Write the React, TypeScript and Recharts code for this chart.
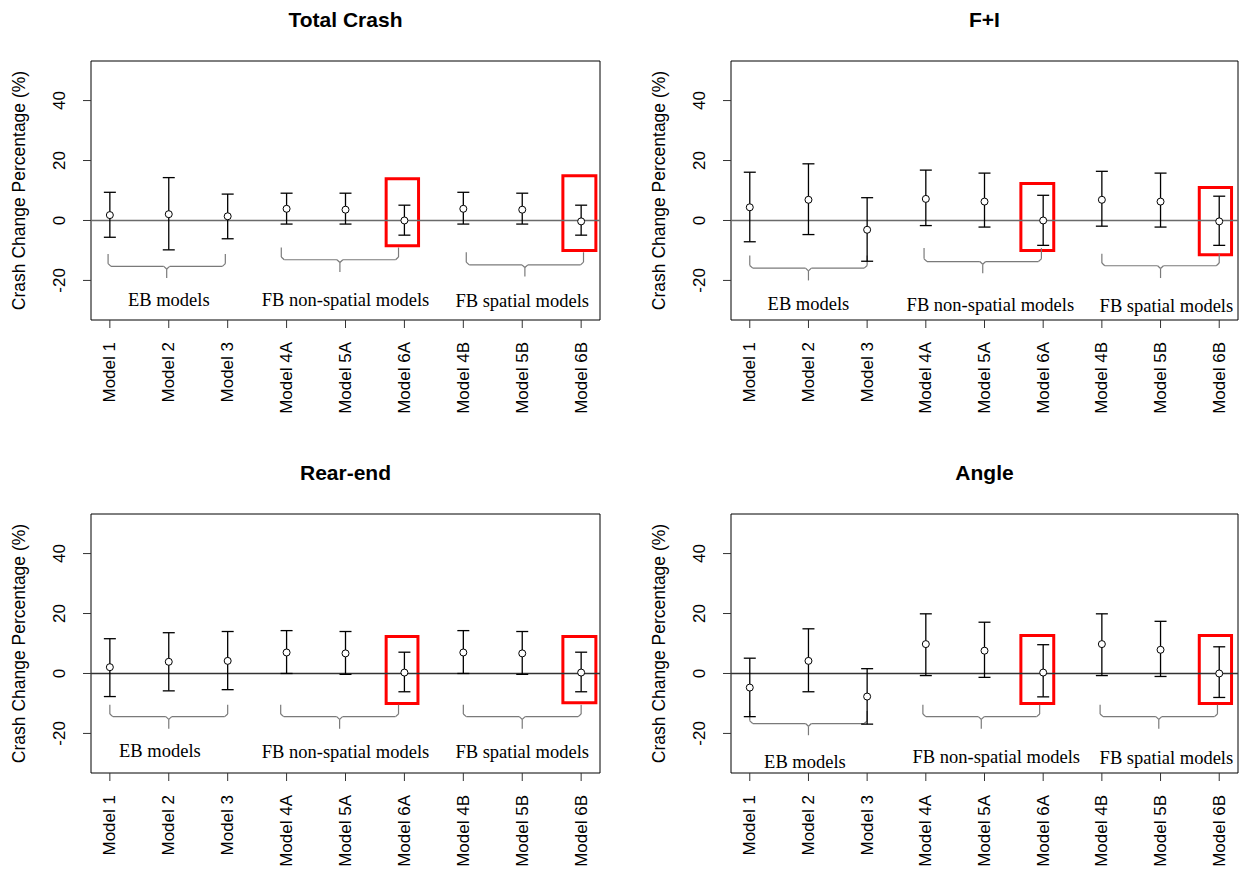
import React from 'react';
import {
  ComposedChart,
  Scatter,
  ErrorBar,
  XAxis,
  YAxis,
  ReferenceLine,
  ReferenceArea,
  ReferenceDot,
} from 'recharts';

// Model categories along the x axis (positions 1..9)
const models = ['Model 1', 'Model 2', 'Model 3', 'Model 4A', 'Model 5A', 'Model 6A', 'Model 4B', 'Model 5B', 'Model 6B'];
const modelPositions = [1, 2, 3, 4, 5, 6, 7, 8, 9];
const yTicks = [-20, 0, 20, 40];
const groupNames = ['EB models', 'FB non-spatial models', 'FB spatial models'];

// Total crash: estimate with 95% interval
const totalEst = [1.8, 2.1, 1.4, 3.9, 3.6, 0.0, 3.9, 3.6, -0.3];
const totalLow = [-5.6, -9.8, -6.1, -1.2, -1.2, -4.9, -1.2, -1.2, -4.9];
const totalHigh = [9.4, 14.3, 8.8, 9.1, 9.1, 5.1, 9.4, 9.1, 5.1];

// Fatal + injury
const fiEst = [4.4, 6.9, -3.1, 7.2, 6.3, 0.0, 6.9, 6.3, -0.3];
const fiLow = [-7.1, -4.7, -13.6, -1.7, -2.2, -8.3, -1.9, -2.2, -8.3];
const fiHigh = [16.1, 18.9, 7.6, 16.8, 15.8, 8.4, 16.4, 15.8, 8.1];

// Rear-end
const rearEst = [2.1, 3.9, 4.2, 7.0, 6.7, 0.3, 7.0, 6.7, 0.3];
const rearLow = [-7.7, -5.8, -5.4, 0.0, -0.3, -6.1, 0.0, -0.3, -6.1];
const rearHigh = [11.6, 13.6, 14.0, 14.3, 14.0, 7.1, 14.3, 14.0, 7.1];

// Angle
const angleEst = [-4.7, 4.2, -7.7, 9.8, 7.6, 0.3, 9.8, 7.9, 0.0];
const angleLow = [-14.4, -6.1, -16.9, -0.7, -1.3, -7.8, -0.7, -1.0, -8.0];
const angleHigh = [5.1, 14.9, 1.6, 19.9, 17.1, 9.6, 19.9, 17.4, 8.9];

// Group braces: [xStart, xEnd, yEnds, yBar, yTip] in data units
const totalBraces = [
  [0.97, 2.96, -11.2, -15.3, -19.2],
  [3.91, 5.9, -9.0, -13.1, -17.2],
  [7.05, 9.04, -10.6, -14.8, -18.7],
];
const fiBraces = [
  [1.0, 3.0, -11.7, -15.9, -20.0],
  [3.97, 5.97, -9.2, -13.7, -17.6],
  [7.0, 9.0, -11.1, -15.1, -19.2],
];
const rearBraces = [
  [1.0, 3.0, -10.4, -14.4, -18.4],
  [3.9, 5.9, -10.4, -14.4, -18.4],
  [7.0, 9.0, -10.4, -14.4, -18.4],
];
const angleBraces = [
  [1.0, 3.0, -12.5, -16.7, -20.6],
  [3.95, 5.94, -10.4, -14.4, -18.4],
  [6.97, 8.97, -10.4, -14.4, -18.4],
];

// Group caption anchors: [x, y] in data units
const totalCaptions = [[2.0, -26.4], [5.0, -26.5], [8.0, -26.6]];
const fiCaptions = [[2.0, -27.8], [5.1, -28.1], [8.1, -28.3]];
const rearCaptions = [[1.85, -25.6], [5.0, -25.9], [8.0, -25.9]];
const angleCaptions = [[1.94, -29.4], [5.2, -27.6], [8.1, -28.1]];

// Highlight frames around Model 6A / 6B: [x1, x2, y1, y2]
const totalFrames = [[5.69, 6.24, -8.4, 13.9], [8.69, 9.25, -10.0, 14.9]];
const fiFrames = [[5.62, 6.18, -10.0, 12.3], [8.66, 9.21, -11.4, 11.0]];
const rearFrames = [[5.69, 6.23, -10.0, 12.3], [8.69, 9.25, -9.8, 12.3]];
const angleFrames = [[5.62, 6.18, -10.0, 12.7], [8.66, 9.21, -10.0, 12.7]];

const X_DOMAIN: [number, number] = [0.68, 9.32];
const Y_DOMAIN: [number, number] = [-33.2, 53.2];

const SANS = '"Liberation Sans", Arial, Helvetica, sans-serif';
const SERIF = '"Liberation Serif", "Times New Roman", serif';

const PLOT_LEFT = 91;
const PLOT_TOP = 61;
const PLOT_H = 259;
const CHART_H = 421;

// brace corner rounding, in data units
const CURL_X = 0.05;
const CURL_Y = 0.9;

const XTick = (props: any) => {
  const { x, y, payload } = props;
  const bx = x + 5.5;
  return (
    <text x={bx} y={y} transform={`rotate(-90 ${bx} ${y})`} textAnchor="end" fontFamily={SANS} fontSize={17} fill="#000">
      {models[payload.value - 1]}
    </text>
  );
};

const YTick = (props: any) => {
  const { x, y, payload } = props;
  return (
    <text x={x} y={y} transform={`rotate(-90 ${x} ${y})`} textAnchor="middle" fontFamily={SANS} fontSize={17} fill="#000">
      {payload.value}
    </text>
  );
};

const OpenCircle = (props: any) => {
  const { cx, cy } = props;
  return <circle cx={cx} cy={cy} r={3.5} fill="#fff" stroke="#000" strokeWidth={1} />;
};

// Builds the polyline pieces of one curly brace
function braceSegments(b: number[]) {
  const [x1, x2, yEnd, yBar, yTip] = b;
  const xm = (x1 + x2) / 2;
  const pts: [number, number][][] = [
    [[x1, yEnd], [x1, yBar + CURL_Y]],
    [[x1, yBar + CURL_Y], [x1 + CURL_X, yBar]],
    [[x1 + CURL_X, yBar], [xm - CURL_X, yBar]],
    [[xm - CURL_X, yBar], [xm, yBar - CURL_Y]],
    [[xm + CURL_X, yBar], [xm, yBar - CURL_Y]],
    [[xm, yBar - CURL_Y], [xm, yTip]],
    [[xm + CURL_X, yBar], [x2 - CURL_X, yBar]],
    [[x2 - CURL_X, yBar], [x2, yBar + CURL_Y]],
    [[x2, yBar + CURL_Y], [x2, yEnd]],
  ];
  return pts;
}

type PanelProps = {
  title: string;
  est: number[];
  low: number[];
  high: number[];
  braces: number[][];
  captions: number[][];
  frames: number[][];
  left: number;
  top: number;
  plotW: number;
  zeroColor: string;
};

function Panel({ title, est, low, high, braces, captions, frames, left, top, plotW, zeroColor }: PanelProps) {
  const data = est.map((v, i) => ({ x: modelPositions[i], y: v, err: [v - low[i], high[i] - v] }));
  const width = PLOT_LEFT + plotW + 4;
  const braceColor = '#7a7a7a';
  return (
    <div style={{ position: 'absolute', left, top, width, height: CHART_H }}>
      <ComposedChart width={width} height={CHART_H} margin={{ top: PLOT_TOP, right: 4, bottom: 1, left: PLOT_LEFT - 40 }}>
        <XAxis
          type="number"
          dataKey="x"
          domain={X_DOMAIN}
          ticks={modelPositions}
          interval={0}
          allowDataOverflow
          height={100}
          axisLine={false}
          tickSize={8}
          tickMargin={14}
          tickLine={{ stroke: '#333' }}
          tick={<XTick />}
        />
        <YAxis
          type="number"
          dataKey="y"
          domain={Y_DOMAIN}
          ticks={yTicks}
          interval={0}
          allowDataOverflow
          width={40}
          axisLine={false}
          tickSize={8}
          tickMargin={18}
          tickLine={{ stroke: '#333' }}
          tick={<YTick />}
        />
        <ReferenceArea x1={X_DOMAIN[0]} x2={X_DOMAIN[1]} y1={Y_DOMAIN[0]} y2={Y_DOMAIN[1]} fill="none" stroke="#000" strokeWidth={1} fillOpacity={0} />
        <ReferenceLine y={0} stroke={zeroColor} strokeWidth={1.3} />
        {braces.map((b, i) =>
          braceSegments(b).map((s, j) => (
            <ReferenceLine
              key={`b${i}-${j}`}
              segment={[{ x: s[0][0], y: s[0][1] }, { x: s[1][0], y: s[1][1] }]}
              stroke={braceColor}
              strokeWidth={1.2}
            />
          ))
        )}
        {frames.map((f, i) => (
          <ReferenceArea key={`f${i}`} x1={f[0]} x2={f[1]} y1={f[2]} y2={f[3]} fill="none" fillOpacity={0} stroke="#ff0000" strokeWidth={3} />
        ))}
        {captions.map((c, i) => (
          <ReferenceDot
            key={`c${i}`}
            x={c[0]}
            y={c[1]}
            r={0}
            fill="none"
            stroke="none"
            label={{ value: groupNames[i], position: 'center', fill: '#000', fontSize: 18.5, fontFamily: SERIF }}
          />
        ))}
        <Scatter data={data} dataKey="y" isAnimationActive={false} shape={<OpenCircle />}>
          <ErrorBar dataKey="err" direction="y" width={6} stroke="#000" strokeWidth={1.3} isAnimationActive={false} />
        </Scatter>
      </ComposedChart>
      <svg width={width} height={CHART_H} style={{ position: 'absolute', left: 0, top: 0, pointerEvents: 'none' }}>
        <text x={PLOT_LEFT + plotW / 2} y={PLOT_TOP - 34} textAnchor="middle" fontFamily={SANS} fontWeight="bold" fontSize={21} fill="#000">
          {title}
        </text>
        <text
          transform={`translate(${PLOT_LEFT - 66} ${PLOT_TOP + PLOT_H / 2}) rotate(-90)`}
          textAnchor="middle"
          fontFamily={SANS}
          fontSize={17.5}
          fill="#000"
        >
          Crash Change Percentage (%)
        </text>
      </svg>
    </div>
  );
}

export default function App() {
  return (
    <div style={{ position: 'absolute', left: 0, top: 0, width: 1244, height: 874, overflow: 'hidden', background: '#fff' }}>
      <Panel title="Total Crash" est={totalEst} low={totalLow} high={totalHigh} braces={totalBraces} captions={totalCaptions} frames={totalFrames} left={0} top={0} plotW={509} zeroColor="#6a6a6a" />
      <Panel title="F+I" est={fiEst} low={fiLow} high={fiHigh} braces={fiBraces} captions={fiCaptions} frames={fiFrames} left={640} top={0} plotW={507} zeroColor="#6a6a6a" />
      <Panel title="Rear-end" est={rearEst} low={rearLow} high={rearHigh} braces={rearBraces} captions={rearCaptions} frames={rearFrames} left={0} top={453} plotW={509} zeroColor="#333" />
      <Panel title="Angle" est={angleEst} low={angleLow} high={angleHigh} braces={angleBraces} captions={angleCaptions} frames={angleFrames} left={640} top={453} plotW={507} zeroColor="#333" />
    </div>
  );
}
